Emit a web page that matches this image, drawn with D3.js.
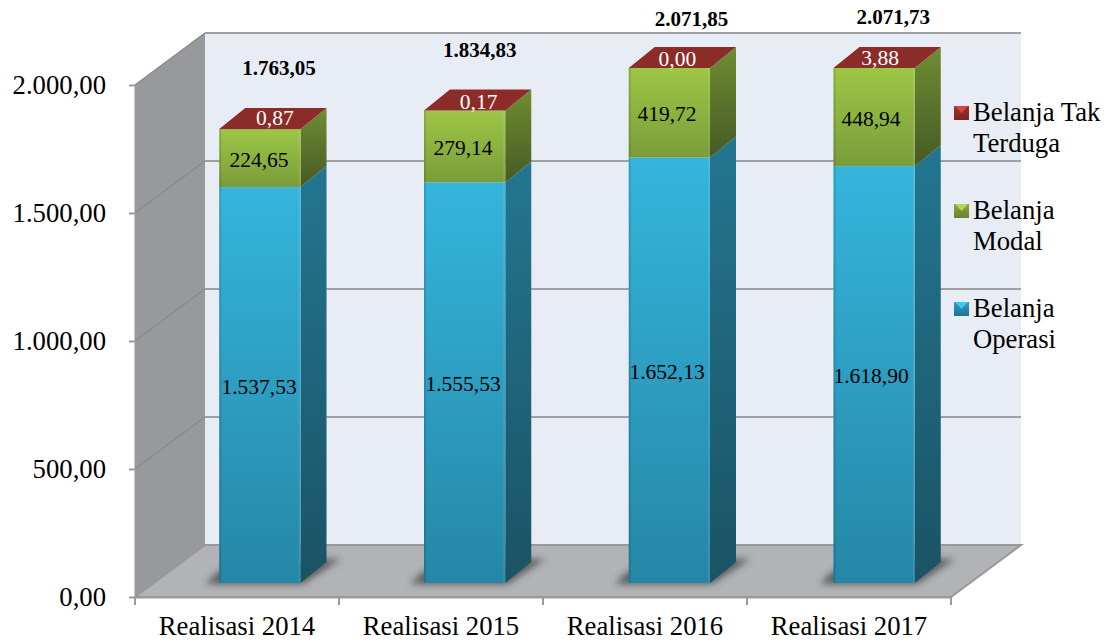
<!DOCTYPE html>
<html>
<head>
<meta charset="utf-8">
<script src="https://cdn.jsdelivr.net/npm/d3@7"></script>
<style>
  body { margin: 0; background: #fff; }
  text { font-family: "Liberation Serif", serif; fill: #000; }
</style>
</head>
<body>
<div id="chart"></div>
<script>
const categories = ['Realisasi 2014', 'Realisasi 2015', 'Realisasi 2016', 'Realisasi 2017'];
const seriesNames = ['Belanja Operasi', 'Belanja Modal', 'Belanja Tak Terduga'];
const belanjaOperasi = [1537.53, 1555.53, 1652.13, 1618.90];
const belanjaModal = [224.65, 279.14, 419.72, 448.94];
const belanjaTakTerduga = [0.87, 0.17, 0.00, 3.88];
const totals = [1763.05, 1834.83, 2071.85, 2071.73];
const yTicks = [0, 500, 1000, 1500, 2000];

const chartWidth = 1114;
const chartHeight = 642;
const plotLeft = 135;
const plotRight = 951;
const plotBottom = 597;
const plotTop = 85;
const wallDx = 70;
const wallDy = 52;
const barDx = 22.5;
const sideDx = 26;
const sideDy = 21;

// hand placed in the original, relative to the front of the bar
const totalNudge = [[19, -60.5], [15, -60.5], [22, -49], [19, -51]];
const topLabelNudge = [[15, -11], [14, -9], [8, -9], [6, -10]];

const numberFormat = d3.formatLocale({decimal: ',', thousands: '.', grouping: [3], currency: ['', '']}).format(',.2f');

const rows = categories.map((c, i) => ({
  category: c,
  0: belanjaOperasi[i],
  1: belanjaModal[i],
  2: belanjaTakTerduga[i]
}));
const stacked = d3.stack().keys([0, 1, 2])(rows);

//Scale data
const xScale = d3.scaleBand()
  .domain(categories)
  .range([plotLeft, plotRight + 3])
  .paddingInner(0.603)
  .paddingOuter(0.3015);

const xAxisScale = d3.scaleBand()
  .domain(categories)
  .range([plotLeft, plotRight]);

const yScale = d3.scaleLinear()
  .domain([0, 2000])
  .range([plotBottom, plotTop]);

// the original clips the stacks at the axis maximum
const yBar = d3.scaleLinear()
  .domain([0, 2000])
  .range([583, 68])
  .clamp(true);

const chart = d3.select('#chart')
  .append('svg')
  .attr('width', chartWidth)
  .attr('height', chartHeight)
  .style('display', 'block');

//Gradients
const defs = chart.append('defs');
function gradient(id, from, to) {
  const g = defs.append('linearGradient').attr('id', id)
    .attr('x1', 0).attr('y1', 0).attr('x2', 0).attr('y2', 1);
  g.append('stop').attr('offset', '0%').attr('stop-color', from);
  g.append('stop').attr('offset', '100%').attr('stop-color', to);
}
const frontColors = [['#35b5dd', '#2587a6'], ['#9dc746', '#7a9c3a'], ['#8f2f2a', '#8f2f2a']];
const sideColors = [['#237690', '#1a5364'], ['#6f8d33', '#465a24'], ['#6b2320', '#6b2320']];
const legendColors = [['#2f9cbf', '#1f7490', '#3cc8ee'], ['#8aa63f', '#6b8232', '#b6d656'], ['#a5302c', '#7a2522', '#d84545']];
frontColors.forEach((c, i) => gradient('front' + i, c[0], c[1]));
sideColors.forEach((c, i) => gradient('side' + i, c[0], c[1]));
legendColors.forEach((c, i) => gradient('legend' + i, c[0], c[1]));

defs.append('filter').attr('id', 'blur')
  .attr('x', '-30%').attr('y', '-60%').attr('width', '160%').attr('height', '220%')
  .append('feGaussianBlur').attr('stdDeviation', 3.5);

const poly = pts => pts.map(p => p.join(',')).join(' ');

//Walls and floor
chart.append('polygon')
  .attr('points', poly([[plotLeft + wallDx, plotTop - wallDy], [plotRight + wallDx, plotTop - wallDy], [plotRight + wallDx, plotBottom - wallDy], [plotLeft + wallDx, plotBottom - wallDy]]))
  .attr('fill', '#e8ecf5');
chart.append('polygon')
  .attr('points', poly([[plotLeft, plotTop], [plotLeft + wallDx, plotTop - wallDy], [plotLeft + wallDx, plotBottom - wallDy], [plotLeft, plotBottom]]))
  .attr('fill', '#98999c');
chart.append('polygon')
  .attr('points', poly([[plotLeft, plotBottom], [plotLeft + wallDx, plotBottom - wallDy], [plotRight + wallDx, plotBottom - wallDy], [plotRight, plotBottom]]))
  .attr('fill', '#b1b3b6')
  .attr('stroke', '#999')
  .attr('stroke-width', 2);

//Gridlines
const grid = chart.append('g').attr('fill', 'none').attr('stroke', '#a0a0a0');
grid.selectAll('polyline')
  .data(yTicks.filter(d => d > 0))
  .enter()
  .append('polyline')
  .attr('points', d => poly([[plotLeft + wallDx, yScale(d) - wallDy], [plotRight + wallDx, yScale(d) - wallDy]]))
  .attr('stroke-width', 2);
grid.selectAll('line')
  .data(yTicks.filter(d => d > 0))
  .enter()
  .append('line')
  .attr('x1', plotLeft)
  .attr('y1', d => yScale(d))
  .attr('x2', plotLeft + wallDx)
  .attr('y2', d => yScale(d) - wallDy)
  .attr('stroke', '#8a8a8c')
  .attr('stroke-width', 1.5);

//Shadows on the floor
chart.append('g')
  .selectAll('polygon')
  .data(categories)
  .enter()
  .append('polygon')
  .attr('points', d => {
    const x0 = xScale(d) + barDx;
    const x1 = x0 + xScale.bandwidth();
    const y0 = yBar(0);
    return poly([[x0 - 14, y0 + 1], [x1 + 2, y0 + 1], [x1 + 40, y0 - 24], [x1 + 26, y0 - 24], [x0, y0 - 12]]);
  })
  .attr('fill', '#3e3f41')
  .attr('opacity', 0.75)
  .attr('filter', 'url(#blur)');

//Bars
const bars = chart.append('g');
stacked.forEach((layer, s) => {
  const g = bars.append('g').attr('class', 'series-' + s);

  g.selectAll('polygon.side')
    .data(layer)
    .enter()
    .append('polygon')
    .attr('class', 'side')
    .attr('points', d => {
      const x1 = xScale(d.data.category) + barDx + xScale.bandwidth();
      return poly([[x1, yBar(d[1])], [x1 + sideDx, yBar(d[1]) - sideDy], [x1 + sideDx, yBar(d[0]) - sideDy], [x1, yBar(d[0])]]);
    })
    .attr('fill', `url(#side${s})`);

  g.selectAll('rect.front')
    .data(layer)
    .enter()
    .append('rect')
    .attr('class', 'front')
    .attr('x', d => xScale(d.data.category) + barDx)
    .attr('y', d => yBar(d[1]))
    .attr('width', xScale.bandwidth())
    .attr('height', d => yBar(d[0]) - yBar(d[1]))
    .attr('fill', `url(#front${s})`);

  // bevel on both front edges
  g.selectAll('rect.edge-left')
    .data(layer)
    .enter()
    .append('rect')
    .attr('class', 'edge-left')
    .attr('x', d => xScale(d.data.category) + barDx)
    .attr('y', d => yBar(d[1]))
    .attr('width', 2)
    .attr('height', d => yBar(d[0]) - yBar(d[1]))
    .attr('fill', '#000')
    .attr('opacity', 0.12);

  g.selectAll('rect.edge-right')
    .data(layer)
    .enter()
    .append('rect')
    .attr('class', 'edge-right')
    .attr('x', d => xScale(d.data.category) + barDx + xScale.bandwidth() - 2)
    .attr('y', d => yBar(d[1]))
    .attr('width', 2)
    .attr('height', d => yBar(d[0]) - yBar(d[1]))
    .attr('fill', '#fff')
    .attr('opacity', 0.08);
});

//Top face of each stack
bars.append('g')
  .selectAll('polygon')
  .data(stacked[2])
  .enter()
  .append('polygon')
  .attr('points', d => {
    const x0 = xScale(d.data.category) + barDx;
    const x1 = x0 + xScale.bandwidth();
    const y = yBar(d[1]);
    return poly([[x0, y], [x1, y], [x1 + sideDx, y - sideDy], [x0 + sideDx, y - sideDy]]);
  })
  .attr('fill', '#8b2c28');

//Axes
const axisStyle = g => {
  g.selectAll('path, line').attr('stroke', '#9a9a9a').attr('stroke-width', 2);
  g.selectAll('text').attr('font-size', 26.7).style('font-family', '"Liberation Serif", serif').attr('fill', '#000');
};

const yAxis = d3.axisLeft(yScale)
  .tickValues(yTicks)
  .tickFormat(numberFormat)
  .tickSize(6)
  .tickSizeOuter(0)
  .tickPadding(23);
chart.append('g')
  .attr('class', 'y-axis')
  .attr('transform', `translate(${plotLeft}, 0)`)
  .call(yAxis)
  .call(axisStyle);

const xAxis = d3.axisBottom(xAxisScale)
  .tickSize(0)
  .tickPadding(19);
chart.append('g')
  .attr('class', 'x-axis')
  .attr('transform', `translate(0, ${plotBottom})`)
  .call(xAxis)
  .call(axisStyle);

// ticks sit between the categories
chart.append('g')
  .selectAll('line')
  .data(categories.concat(['end']))
  .enter()
  .append('line')
  .attr('x1', (d, i) => plotLeft + i * xAxisScale.step())
  .attr('x2', (d, i) => plotLeft + i * xAxisScale.step())
  .attr('y1', plotBottom)
  .attr('y2', plotBottom + 8)
  .attr('stroke', '#9a9a9a')
  .attr('stroke-width', 2);

//Value labels
const labelX = d => xAxisScale(d.data.category) + xAxisScale.bandwidth() / 2 + 22;
const labelColor = ['#000', '#000', '#fff'];
stacked.forEach((layer, s) => {
  chart.append('g')
    .selectAll('text')
    .data(layer)
    .enter()
    .append('text')
    .text(d => numberFormat(d[1] - d[0]))
    .attr('x', (d, i) => s === 2 ? xScale(d.data.category) + barDx + xScale.bandwidth() / 2 + topLabelNudge[i][0] : labelX(d))
    .attr('y', (d, i) => (yBar(d[0]) + yBar(d[1])) / 2 + (s === 2 ? topLabelNudge[i][1] : 1.5))
    .attr('dy', '0.33em')
    .attr('text-anchor', 'middle')
    .attr('font-size', 21.5)
    .style('fill', labelColor[s]);
});

//Totals
chart.append('g')
  .selectAll('text')
  .data(totals)
  .enter()
  .append('text')
  .text(d => numberFormat(d))
  .attr('x', (d, i) => xScale(categories[i]) + barDx + xScale.bandwidth() / 2 + totalNudge[i][0])
  .attr('y', (d, i) => yBar(d) + totalNudge[i][1])
  .attr('dy', '0.33em')
  .attr('text-anchor', 'middle')
  .attr('font-size', 21)
  .attr('font-weight', 'bold');

//Legend, top entry is the last series
const legendTop = 113;
const legendStep = 98;
const legendOrder = [2, 1, 0];
const legend = chart.append('g')
  .selectAll('g')
  .data(legendOrder)
  .enter()
  .append('g')
  .attr('transform', (d, i) => `translate(954, ${legendTop + i * legendStep})`);

legend.append('rect')
  .attr('x', 0).attr('y', -7)
  .attr('width', 15).attr('height', 14)
  .attr('fill', d => `url(#legend${d})`);
legend.append('polygon')
  .attr('points', poly([[1, -7], [14, -7], [7.5, 0]]))
  .attr('fill', d => legendColors[d][2]);

legend.each(function (d) {
  const words = seriesNames[d].split(' ');
  const lines = [words.slice(0, d === 2 ? 2 : 1).join(' '), words.slice(d === 2 ? 2 : 1).join(' ')];
  d3.select(this).selectAll('text')
    .data(lines)
    .enter()
    .append('text')
    .text(t => t)
    .attr('x', 19)
    .attr('y', (t, i) => 8 + i * 30.5)
    .attr('font-size', 26.7);
});
</script>
</body>
</html>
